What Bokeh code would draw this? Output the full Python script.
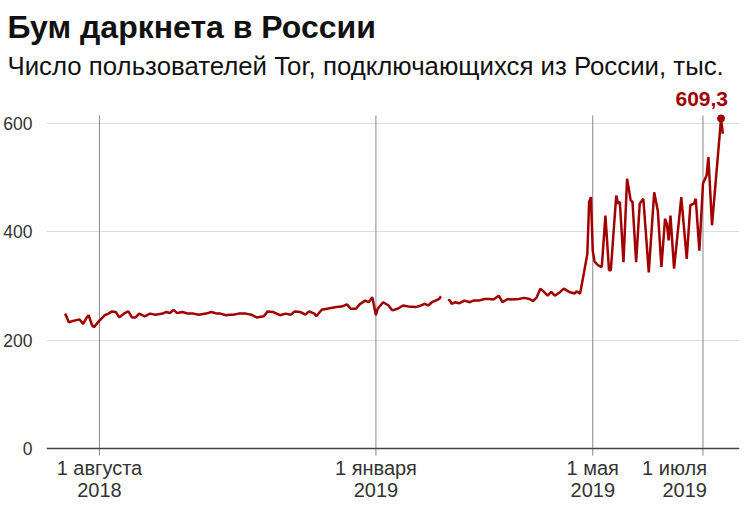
import numpy as np
import pandas as pd
from bokeh.plotting import figure
from bokeh.models import Range1d, FixedTicker, Title, ColumnDataSource
from bokeh.core.properties import value
from bokeh.embed import file_html
from bokeh.resources import INLINE

title_text = "Бум даркнета в России"
subtitle_text = "Число пользователей Tor, подключающихся из России, тыс."

dates = [
    "2018-07-13", "2018-07-14", "2018-07-15", "2018-07-18", "2018-07-21", "2018-07-23", "2018-07-25", "2018-07-26", "2018-07-28", "2018-07-29",
    "2018-08-01", "2018-08-04", "2018-08-06", "2018-08-08", "2018-08-10", "2018-08-12", "2018-08-15", "2018-08-17", "2018-08-19", "2018-08-21",
    "2018-08-23", "2018-08-26", "2018-08-29", "2018-09-01", "2018-09-05", "2018-09-07", "2018-09-09", "2018-09-11", "2018-09-13", "2018-09-16",
    "2018-09-19", "2018-09-22", "2018-09-25", "2018-09-29", "2018-10-02", "2018-10-05", "2018-10-07", "2018-10-10", "2018-10-12", "2018-10-14",
    "2018-10-17", "2018-10-21", "2018-10-24", "2018-10-27", "2018-10-31", "2018-11-02", "2018-11-05", "2018-11-07", "2018-11-09", "2018-11-12",
    "2018-11-15", "2018-11-17", "2018-11-20", "2018-11-23", "2018-11-25", "2018-11-28", "2018-11-29", "2018-12-02", "2018-12-05", "2018-12-08",
    "2018-12-10", "2018-12-13", "2018-12-16", "2018-12-18", "2018-12-21", "2018-12-23", "2018-12-26", "2018-12-28", "2018-12-30", "2019-01-01",
    "2019-01-02", "2019-01-05", "2019-01-08", "2019-01-10", "2019-01-13", "2019-01-16", "2019-01-19", "2019-01-23", "2019-01-26", "2019-01-28",
    "2019-01-30", "2019-02-01", "2019-02-03", "2019-02-05", "2019-02-06", "2019-02-07", "2019-02-10", "2019-02-11", "2019-02-12", "2019-02-14",
    "2019-02-16", "2019-02-19", "2019-02-22", "2019-02-24", "2019-02-27", "2019-03-02", "2019-03-05", "2019-03-07", "2019-03-10", "2019-03-12",
    "2019-03-15", "2019-03-17", "2019-03-21", "2019-03-24", "2019-03-27", "2019-03-29", "2019-03-31", "2019-04-02", "2019-04-04", "2019-04-06",
    "2019-04-08", "2019-04-10", "2019-04-13", "2019-04-15", "2019-04-18", "2019-04-21", "2019-04-22", "2019-04-24", "2019-04-26", "2019-04-28",
    "2019-04-29", "2019-04-30", "2019-05-01", "2019-05-02", "2019-05-04", "2019-05-06", "2019-05-08", "2019-05-10", "2019-05-11", "2019-05-14",
    "2019-05-15", "2019-05-16", "2019-05-18", "2019-05-20", "2019-05-22", "2019-05-23", "2019-05-25", "2019-05-27", "2019-05-29", "2019-06-01",
    "2019-06-04", "2019-06-06", "2019-06-08", "2019-06-10", "2019-06-11", "2019-06-12", "2019-06-13", "2019-06-15", "2019-06-19", "2019-06-22",
    "2019-06-24", "2019-06-26", "2019-06-27", "2019-06-29", "2019-07-01", "2019-07-03", "2019-07-04", "2019-07-06", "2019-07-11", "2019-07-12",
]

users = [
    249, 242, 233, 236, 238, 230, 242, 246, 227, 224,
    236, 246, 249, 253, 252, 242, 250, 253, 242, 242,
    249, 244, 249, 247, 249, 252, 250, 256, 250, 252,
    249, 249, 247, 249, 252, 249, 249, 246, 247, 247,
    249, 249, 247, 242, 244, 253, 252, 249, 246, 249,
    247, 253, 252, 247, 253, 249, 244, 256, 258, 260,
    261, 262, 266, 258, 258, 266, 273, 270, 279, 246,
    258, 270, 264, 255, 258, 264, 262, 261, 264, 267,
    264, 270, 273, 276, 281, np.nan, 275, 273, 267, 270,
    268, 273, 270, 273, 273, 276, 276, 275, 282, 270,
    276, 275, 276, 278, 276, 272, 279, 295, 289, 282,
    289, 282, 289, 295, 289, 286, 290, 286, 322, 359,
    455, 464, 365, 345, 338, 335, 430, 329, 329, 467,
    452, 455, 344, 498, 458, 455, 344, 452, 461, 325,
    473, 439, 335, 424, 415, 384, 430, 332, 464, 350,
    449, 452, 461, 365, 489, 504, 538, 412, 609.3, 581,
]

tick_dates = ["2018-08-01", "2019-01-01", "2019-05-01", "2019-07-01"]
tick_line1 = ["1 августа", "1 января", "1 мая", "1 июля"]
tick_line2 = ["2018", "2019", "2019", "2019"]
y_ticks = [0, 200, 400, 600]

peak_date = "2019-07-11"
peak_value = 609.3
peak_label = "609,3"

# styling / placement (not data)
FONT = "Liberation Sans"
RED = "#a00000"
PX_PER_UNIT = 0.5417
tick_align = ["center", "center", "center", "right"]
tick_shift = [0, 0, 0, 4]

x = pd.to_datetime(dates)
y = np.array(users, dtype=float)
src = ColumnDataSource(dict(x=x, y=y))

x_start = pd.Timestamp("2018-07-02 17:00")
x_end = pd.Timestamp("2019-07-21 05:00")
y_lo, y_hi = -99.7, 679.3

p = figure(
    frame_width=693, frame_height=422,
    x_axis_type="datetime",
    x_range=Range1d(x_start, x_end),
    y_range=Range1d(y_lo, y_hi),
    output_backend="svg", toolbar_location=None,
    min_border_left=39, min_border_right=2, min_border_top=80, min_border_bottom=0,
)
p.outline_line_color = None
p.background_fill_color = "white"

# titles (later-added titles sit closer to the frame)
p.title.text = title_text
p.title.text_font = FONT
p.title.text_font_size = "32px"
p.title.text_font_style = "bold"
p.title.text_color = "#111111"
p.title.align = "left"
p.title.offset = -39
p.title.standoff = 8
p.add_layout(Title(text=subtitle_text, text_font=FONT, text_font_size="25.8px",
                   text_font_style="normal", text_color="#111111", align="left",
                   offset=-39, standoff=2), "above")

# grid
p.xgrid.grid_line_color = None
p.ygrid.grid_line_color = "#dddddd"
p.ygrid.grid_line_width = 1

# y axis
p.yaxis.ticker = FixedTicker(ticks=y_ticks)
p.yaxis.axis_line_color = None
p.yaxis.major_tick_line_color = None
p.yaxis.minor_tick_line_color = None
p.yaxis.major_label_standoff = 8
p.yaxis.major_label_text_font = FONT
p.yaxis.major_label_text_font_size = "17.5px"
p.yaxis.major_label_text_color = "#333333"

# x axis drawn inside the frame
p.xaxis.visible = False
tick_x = pd.to_datetime(tick_dates)
n = len(tick_x)
tick_len = 7 / PX_PER_UNIT
p.segment(x0=tick_x, y0=[-tick_len] * n, x1=tick_x, y1=[614.8] * n,
          line_color="#888888", line_width=1)
p.segment(x0=[x_start], y0=[0], x1=[x_end], y1=[0], line_color="#444444", line_width=1.5)
lab_src = ColumnDataSource(dict(
    x=tick_x, y1=[-20 / PX_PER_UNIT] * n, y2=[-42 / PX_PER_UNIT] * n,
    t1=tick_line1, t2=tick_line2, align=tick_align, shift=tick_shift,
))
for ycol, tcol in (("y1", "t1"), ("y2", "t2")):
    p.text(x="x", y=ycol, text=tcol, source=lab_src, x_offset="shift",
           text_font=value(FONT), text_font_size="20px", text_color="#333333",
           text_align="align", text_baseline="alphabetic")

p.line("x", "y", source=src, line_color=RED, line_width=2.5)
p.scatter([pd.Timestamp(peak_date)], [peak_value], size=7, color=RED)
p.text(x=[pd.Timestamp(peak_date)], y=[peak_value + 19 / PX_PER_UNIT], text=[peak_label],
       x_offset=7, text_font=value(FONT), text_font_size="21px", text_font_style="bold",
       text_color=RED, text_align="right", text_baseline="alphabetic")

open("out.html", "w").write(file_html(p, INLINE))
